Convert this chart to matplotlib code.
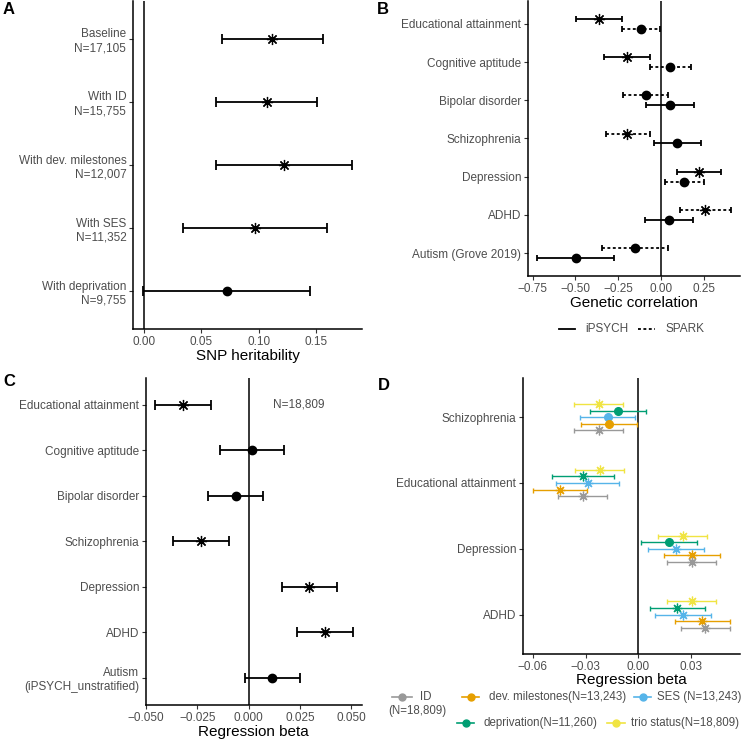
import numpy as np
import matplotlib
matplotlib.use("Agg")
import matplotlib.pyplot as plt
from matplotlib.lines import Line2D

plt.rcParams["font.family"] = ["Liberation Sans", "DejaVu Sans"]

# ---- panel A: SNP heritability
a_labels = ["Baseline\nN=17,105", "With ID\nN=15,755", "With dev. milestones\nN=12,007",
            "With SES\nN=11,352", "With deprivation\nN=9,755"]
a_est = [0.112, 0.107, 0.122, 0.097, 0.072]
a_lo = [0.068, 0.063, 0.063, 0.034, -0.0015]
a_hi = [0.156, 0.151, 0.182, 0.160, 0.145]
a_sig = [True, True, True, True, False]

# ---- panel B: genetic correlation
b_traits = ["Educational attainment", "Cognitive aptitude", "Bipolar disorder", "Schizophrenia",
            "Depression", "ADHD", "Autism (Grove 2019)"]
b_ipsych_est = [-0.363, -0.201, 0.052, 0.096, 0.223, 0.048, -0.499]
b_ipsych_lo = [-0.497, -0.332, -0.089, -0.038, 0.096, -0.092, -0.725]
b_ipsych_hi = [-0.229, -0.067, 0.192, 0.234, 0.351, 0.190, -0.273]
b_ipsych_sig = [True, True, False, False, True, False, False]
b_spark_est = [-0.118, 0.055, -0.089, -0.197, 0.137, 0.260, -0.153]
b_spark_lo = [-0.227, -0.063, -0.223, -0.322, 0.022, 0.114, -0.345]
b_spark_hi = [-0.003, 0.174, 0.044, -0.067, 0.254, 0.408, 0.042]
b_spark_sig = [False, False, False, True, False, True, False]

# ---- panel C: regression beta
c_traits = ["Educational attainment", "Cognitive aptitude", "Bipolar disorder", "Schizophrenia",
            "Depression", "ADHD", "Autism\n(iPSYCH_unstratified)"]
c_est = [-0.0320, 0.0017, -0.0062, -0.0233, 0.0293, 0.0372, 0.0114]
c_lo = [-0.0456, -0.0140, -0.0197, -0.0367, 0.0160, 0.0236, -0.0019]
c_hi = [-0.0184, 0.0171, 0.0072, -0.0096, 0.0430, 0.0508, 0.0250]
c_sig = [True, False, False, True, True, True, False]

# ---- panel D: regression beta by covariate (rows: Schizophrenia, Edu, Depression, ADHD)
d_traits = ["Schizophrenia", "Educational attainment", "Depression", "ADHD"]
d_groups = ["trio status", "deprivation", "SES", "dev. milestones", "ID"]
d_colors = ["#F0E442", "#009E73", "#56B4E9", "#E69F00", "#999999"]
d_est = {
    "trio status":     [-0.0227, -0.0220, 0.0253, 0.0302],
    "deprivation":     [-0.0118, -0.0318, 0.0171, 0.0219],
    "SES":             [-0.0176, -0.0286, 0.0211, 0.0253],
    "dev. milestones": [-0.0169, -0.0447, 0.0302, 0.0362],
    "ID":              [-0.0227, -0.0318, 0.0302, 0.0379],
}
d_lo = {
    "trio status":     [-0.0366, -0.0358, 0.0113, 0.0162],
    "deprivation":     [-0.0277, -0.0494, 0.0014, 0.0066],
    "SES":             [-0.0335, -0.0466, 0.0052, 0.0096],
    "dev. milestones": [-0.0326, -0.0602, 0.0145, 0.0205],
    "ID":              [-0.0366, -0.0455, 0.0162, 0.0243],
}
d_hi = {
    "trio status":     [-0.0088, -0.0082, 0.0391, 0.0440],
    "deprivation":     [0.0041, -0.0139, 0.0330, 0.0379],
    "SES":             [-0.0020, -0.0108, 0.0372, 0.0410],
    "dev. milestones": [-0.0008, -0.0290, 0.0461, 0.0519],
    "ID":              [-0.0088, -0.0178, 0.0440, 0.0519],
}
d_sig = {
    "trio status":     [True, True, True, True],
    "deprivation":     [False, True, False, True],
    "SES":             [False, True, True, True],
    "dev. milestones": [False, True, True, True],
    "ID":              [True, True, True, True],
}

W, H = 745, 741
TICK_COL = "#4D4D4D"
STAR = (8, 2, 0)
FS = 8.5

fig = plt.figure(figsize=(W / 100, H / 100), dpi=100)


def make_axes(left, right, top, bottom):
    ax = fig.add_axes([left / W, 1 - bottom / H, (right - left) / W, (bottom - top) / H])
    for s in ["top", "right"]:
        ax.spines[s].set_visible(False)
    for s in ["left", "bottom"]:
        ax.spines[s].set_linewidth(1.1)
    ax.tick_params(colors="#333333", labelcolor=TICK_COL, labelsize=FS, length=3, width=0.8, pad=1.8)
    return ax


def point(ax, x, y, lo, hi, sig, color="black", lw=1.3, cap=3.5, ms_star=7, ms_dot=5.5, ls="-", z=3):
    eb = ax.errorbar([x], [y], xerr=[[x - lo], [hi - x]], fmt="none", ecolor=color,
                     elinewidth=lw, capsize=cap, capthick=lw, zorder=z)
    eb[2][0].set_linestyle(ls)
    if sig:
        ax.plot([x], [y], marker=STAR, color=color, markersize=ms_star, mew=0.9, ls="none", zorder=z + 1)
    else:
        ax.plot([x], [y], marker="o", color=color, markersize=ms_dot, ls="none", zorder=z + 1)


def cat_axis(ax, labels):
    n = len(labels)
    ypos = np.arange(n)[::-1]
    ax.set_ylim(-0.6, n - 1 + 0.6)
    ax.set_yticks(ypos)
    ax.set_yticklabels(labels)
    for t in ax.get_yticklabels():
        t.set_verticalalignment("center_baseline")
    return ypos


# ---------------- A
axA = make_axes(133, 362, 1, 329)
ya = cat_axis(axA, a_labels)
for i in range(len(a_est)):
    point(axA, a_est[i], ya[i], a_lo[i], a_hi[i], a_sig[i], lw=1.3, cap=3.8, ms_star=8, ms_dot=6)
axA.axvline(0, color="black", lw=1.1, zorder=2)
axA.set_xlim(-0.0099, 0.1905)
axA.set_xticks([0, 0.05, 0.10, 0.15])
axA.set_xticklabels(["0.00", "0.05", "0.10", "0.15"])
axA.set_xlabel("SNP heritability", fontsize=11, labelpad=1)

# ---------------- B
axB = make_axes(527.7, 740, 1, 276)
yb = cat_axis(axB, b_traits)
for i in range(len(b_traits)):
    # ggplot-like dodge: significant estimate on top, otherwise SPARK on top
    if b_ipsych_sig[i] != b_spark_sig[i]:
        ip_up = b_ipsych_sig[i]
    else:
        ip_up = False
    d = 0.126
    y_ip = yb[i] + (d if ip_up else -d)
    y_sp = yb[i] + (-d if ip_up else d)
    point(axB, b_ipsych_est[i], y_ip, b_ipsych_lo[i], b_ipsych_hi[i], b_ipsych_sig[i],
          lw=1.3, cap=2.2, ms_star=8, ms_dot=6)
    point(axB, b_spark_est[i], y_sp, b_spark_lo[i], b_spark_hi[i], b_spark_sig[i],
          lw=1.3, cap=2.2, ms_star=8, ms_dot=6, ls=(0, (1.6, 1.4)))
axB.axvline(0, color="black", lw=1.1, zorder=2)
axB.set_xlim(-0.779, 0.462)
axB.set_xticks([-0.75, -0.5, -0.25, 0, 0.25])
axB.set_xticklabels(["\u22120.75", "\u22120.50", "\u22120.25", "0.00", "0.25"])
axB.set_xlabel("Genetic correlation", fontsize=11, labelpad=1)

# legend B
ly = 1 - 329 / H
fig.add_artist(Line2D([559 / W, 575 / W], [ly, ly], color="black", lw=1.3))
fig.text(585 / W, ly, "iPSYCH", fontsize=FS, color=TICK_COL, va="center")
fig.add_artist(Line2D([638 / W, 655 / W], [ly, ly], color="black", lw=1.3, ls=(0, (1.6, 1.4))))
fig.text(665 / W, ly, "SPARK", fontsize=FS, color=TICK_COL, va="center")

# ---------------- C
axC = make_axes(145.7, 362, 377.7, 705)
yc = cat_axis(axC, c_traits)
for i in range(len(c_traits)):
    point(axC, c_est[i], yc[i], c_lo[i], c_hi[i], c_sig[i], lw=1.3, cap=3.8, ms_star=8, ms_dot=6)
axC.axvline(0, color="black", lw=1.1, zorder=2)
axC.set_xlim(-0.0502, 0.0552)
axC.set_xticks([-0.05, -0.025, 0, 0.025, 0.05])
axC.set_xticklabels(["\u22120.050", "\u22120.025", "0.000", "0.025", "0.050"])
axC.set_xlabel("Regression beta", fontsize=11, labelpad=1)
axC.text(0.0243, yc[0], "N=18,809", fontsize=FS, color=TICK_COL, ha="center", va="center")

# ---------------- D
axD = make_axes(522.7, 740, 377.7, 654)
yd = cat_axis(axD, d_traits)
offs = [0.2, 0.1, 0.0, -0.1, -0.2]
for g, col, off in zip(d_groups, d_colors, offs):
    for i in range(len(d_traits)):
        point(axD, d_est[g][i], yd[i] + off, d_lo[g][i], d_hi[g][i], d_sig[g][i], color=col,
              lw=1.0, cap=1.8, ms_star=7, ms_dot=5.5)
axD.axvline(0, color="black", lw=1.1, zorder=2)
axD.set_xlim(-0.0658, 0.0577)
axD.set_xticks([-0.06, -0.03, 0, 0.03])
axD.set_xticklabels(["\u22120.06", "\u22120.03", "0.00", "0.03"])
axD.set_xlabel("Regression beta", fontsize=11, labelpad=0)

# legend D (manual, two rows)
def leg_key(x0, x1, y, col):
    yy = 1 - y / H
    fig.add_artist(Line2D([x0 / W, x1 / W], [yy, yy], color=col, lw=1.2))
    fig.add_artist(Line2D([(x0 + x1) / 2 / W], [yy], color=col, marker="o", markersize=5, ls="none"))

col_of = dict(zip(d_groups, d_colors))
LFS = 8.3
leg_key(392, 412, 697, col_of["ID"])
fig.text(420 / W, 1 - 697 / H, "ID", fontsize=LFS, color=TICK_COL, va="center")
fig.text(388 / W, 1 - 711 / H, "(N=18,809)", fontsize=LFS, color=TICK_COL, va="center")
leg_key(462, 479, 697, col_of["dev. milestones"])
fig.text(488.7 / W, 1 - 697 / H, "dev. milestones(N=13,243)", fontsize=LFS, color=TICK_COL, va="center")
leg_key(634, 651, 697, col_of["SES"])
fig.text(657 / W, 1 - 697 / H, "SES (N=13,243)", fontsize=LFS, color=TICK_COL, va="center")
leg_key(457, 474, 723, col_of["deprivation"])
fig.text(483.7 / W, 1 - 723 / H, "deprivation(N=11,260)", fontsize=LFS, color=TICK_COL, va="center")
leg_key(607, 625, 723, col_of["trio status"])
fig.text(631 / W, 1 - 723 / H, "trio status(N=18,809)", fontsize=LFS, color=TICK_COL, va="center")

# panel tags
for tag, x, y in [("A", 3, 10), ("B", 377, 10), ("C", 3, 382), ("D", 378, 385)]:
    fig.text(x / W, 1 - y / H, tag, fontsize=12, fontweight="bold", va="center", ha="left")

fig.savefig("out.png", dpi=100)
